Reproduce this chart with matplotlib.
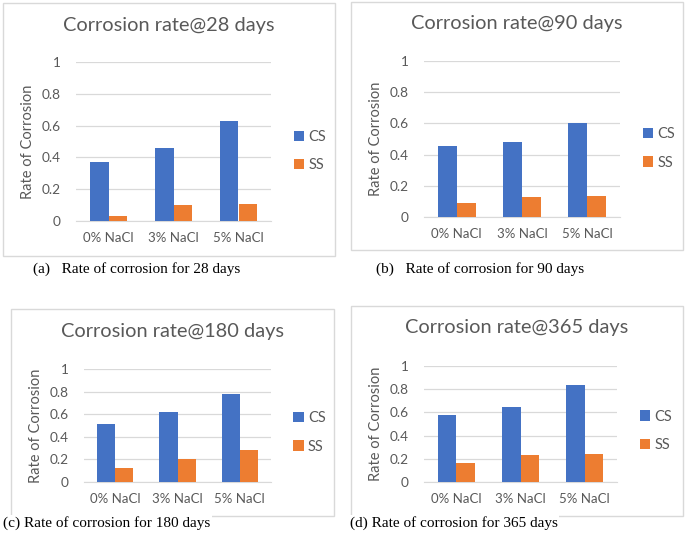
import matplotlib
matplotlib.use('Agg')
import matplotlib.pyplot as plt
from matplotlib.patches import Rectangle

# data
categories = ['0% NaCl', '3% NaCl', '5% NaCl']
series_names = ['CS', 'SS']
cs_28 = [0.37, 0.46, 0.63]
ss_28 = [0.03, 0.10, 0.11]
cs_90 = [0.455, 0.48, 0.60]
ss_90 = [0.09, 0.13, 0.135]
cs_180 = [0.51, 0.62, 0.78]
ss_180 = [0.12, 0.20, 0.285]
cs_365 = [0.58, 0.65, 0.84]
ss_365 = [0.165, 0.23, 0.245]
titles = ['Corrosion rate@28 days', 'Corrosion rate@90 days',
          'Corrosion rate@180 days', 'Corrosion rate@365 days']
captions = ['(a)   Rate of corrosion for 28 days', '(b)   Rate of corrosion for 90 days',
            '(c) Rate of corrosion for 180 days', '(d) Rate of corrosion for 365 days']
yticks = [0, 0.2, 0.4, 0.6, 0.8, 1]
ytick_labels = ['0', '0.2', '0.4', '0.6', '0.8', '1']

W, H = 685, 534
fig = plt.figure(figsize=(W / 100, H / 100), dpi=100)
fig.set_facecolor('white')

gray = '#595959'
grid = '#D9D9D9'
colors = ['#4472C4', '#ED7D31']
font = 'Lato'


def px_rect(l, t, r, b):
    return [l / W, 1 - b / H, (r - l) / W, (b - t) / H]


# (box, axes, title y, caption x, caption y)
layout = [
    ((3, 3, 335, 256), (76, 62, 271, 221), 25, 33, 269),
    ((351, 2, 683, 250), (424, 61, 620, 217), 23, 376, 269),
    ((11, 309, 334, 516), (84, 369, 271, 482), 332, 3, 523),
    ((351, 306, 683, 516), (424, 366, 617, 482), 328, 350, 523),
]
data = [(cs_28, ss_28), (cs_90, ss_90), (cs_180, ss_180), (cs_365, ss_365)]

for i in range(4):
    box, axr, ty, cx, cy = layout[i]
    bl, bt, br, bb = box
    fig.patches.append(Rectangle((bl / W, 1 - bb / H), (br - bl) / W, (bb - bt) / H,
                                 transform=fig.transFigure, fill=False,
                                 edgecolor=grid, linewidth=1.0))

    ax = fig.add_axes(px_rect(*axr))
    x = range(len(categories))
    w = 0.29
    for j, vals in enumerate(data[i]):
        pos = [k + (j - 0.5) * w for k in x]
        ax.bar(pos, vals, width=w, color=colors[j], label=series_names[j], zorder=3)

    ax.set_xlim(-0.5, 2.5)
    ax.set_ylim(0, 1)
    ax.set_yticks(yticks)
    ax.set_yticklabels(ytick_labels, fontfamily=font, fontsize=9.8, color=gray)
    ax.set_xticks(list(x))
    ax.set_xticklabels(categories, fontfamily=font, fontsize=9.5, color=gray)
    ax.tick_params(length=0, pad=8)
    ax.tick_params(axis='y', pad=11)
    ax.yaxis.grid(True, color=grid, linewidth=0.9, zorder=0)
    for s in ['top', 'right', 'left']:
        ax.spines[s].set_visible(False)
    ax.spines['bottom'].set_color(grid)
    ax.set_ylabel('Rate of Corrosion', fontfamily=font, fontsize=10.5, color=gray, labelpad=5)

    fig.text((bl + br) / 2 / W, 1 - ty / H, titles[i], ha='center', va='center',
             fontfamily=font, fontsize=14.4, color=gray)

    ax.legend(loc='center left', bbox_to_anchor=(1.05, 0.44), frameon=False,
              handlelength=0.7, handleheight=0.7, handletextpad=0.3,
              labelspacing=1.0, prop={'family': font, 'size': 10.5}, labelcolor=gray)

    fig.text(cx / W, 1 - cy / H, captions[i], ha='left', va='center',
             fontfamily='Liberation Serif', fontsize=11, color='black',
             bbox=dict(facecolor='white', edgecolor='none', pad=1))

fig.savefig('out.png', dpi=100)
